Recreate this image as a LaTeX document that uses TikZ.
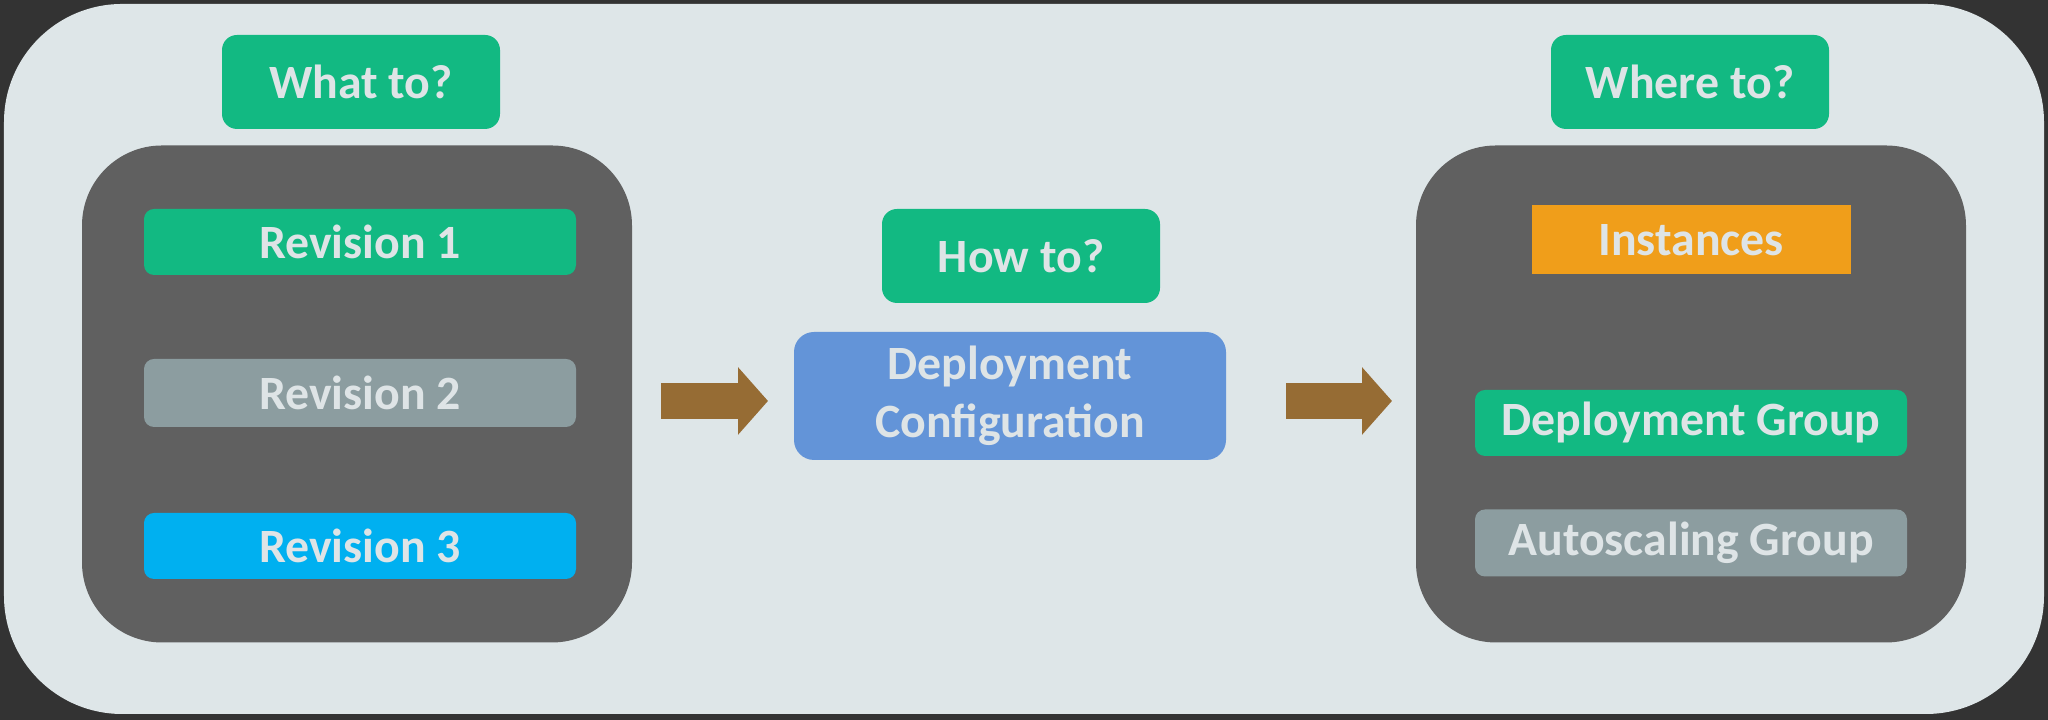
\documentclass[tikz,border=0pt]{standalone}
\usepackage{fontspec}
\setmainfont{Carlito}
\usetikzlibrary{arrows.meta}
\definecolor{frame}{RGB}{51,51,51}
\definecolor{panel}{RGB}{222,230,232}
\definecolor{darkbox}{RGB}{96,96,96}
\definecolor{mint}{RGB}{18,185,130}
\definecolor{slate}{RGB}{140,157,160}
\definecolor{sky}{RGB}{0,176,240}
\definecolor{amber}{RGB}{240,158,26}
\definecolor{cfgblue}{RGB}{99,148,216}
\definecolor{bronze}{RGB}{150,108,52}
\definecolor{txt}{RGB}{222,228,230}
\begin{document}
\begin{tikzpicture}[
    every node/.style={font=\fontsize{13.6}{16.5}\selectfont\bfseries, text=txt, align=center, inner sep=0pt},
    question/.style={fill=mint, rounded corners=0.15cm, minimum width=2.78cm, minimum height=0.94cm},
    holder/.style={fill=darkbox, rounded corners=0.8cm, minimum width=5.5cm, minimum height=4.97cm},
    item/.style={rounded corners=0.1cm, minimum width=4.32cm, minimum height=0.66cm},
    flow/.style={bronze, line width=0.36cm, -{Triangle[length=0.3cm,width=0.66cm]}}]
    \useasboundingbox (0,0) rectangle (20.48,7.2);
    \fill[frame] (0,0) rectangle (20.48,7.2);
    \fill[panel, rounded corners=1.18cm] (0.04,0.06) rectangle (20.44,7.16);
    \node[question] (what) at (3.61,6.38) {What to?};
    \node[holder] (left) at (3.57,3.26) {};
    \node[item, fill=mint] (rev1) at (3.6,4.78) {Revision 1};
    \node[item, fill=slate, minimum height=0.68cm] (rev2) at (3.6,3.27) {Revision 2};
    \node[item, fill=sky] (rev3) at (3.6,1.74) {Revision 3};
    \node[question] (how) at (10.21,4.64) {How to?};
    \node[fill=cfgblue, rounded corners=0.2cm, minimum width=4.32cm, minimum height=1.28cm] (cfg) at (10.1,3.24) {Deployment\\Configuration};
    \node[question] (where) at (16.9,6.38) {Where to?};
    \node[holder] (right) at (16.91,3.26) {};
    \node[fill=amber, minimum width=3.19cm, minimum height=0.69cm] (inst) at (16.91,4.8) {Instances};
    \node[item, fill=mint] (dgroup) at (16.91,2.97) {Deployment Group};
    \node[item, fill=slate, minimum height=0.67cm] (agroup) at (16.91,1.77) {Autoscaling Group};
    \coordinate (in1) at (6.61,3.19);
    \coordinate (out1) at (7.68,3.19);
    \coordinate (in2) at (12.86,3.19);
    \coordinate (out2) at (13.92,3.19);
    \draw[flow] (in1) -- (out1);
    \draw[flow] (in2) -- (out2);
\end{tikzpicture}
\end{document}
